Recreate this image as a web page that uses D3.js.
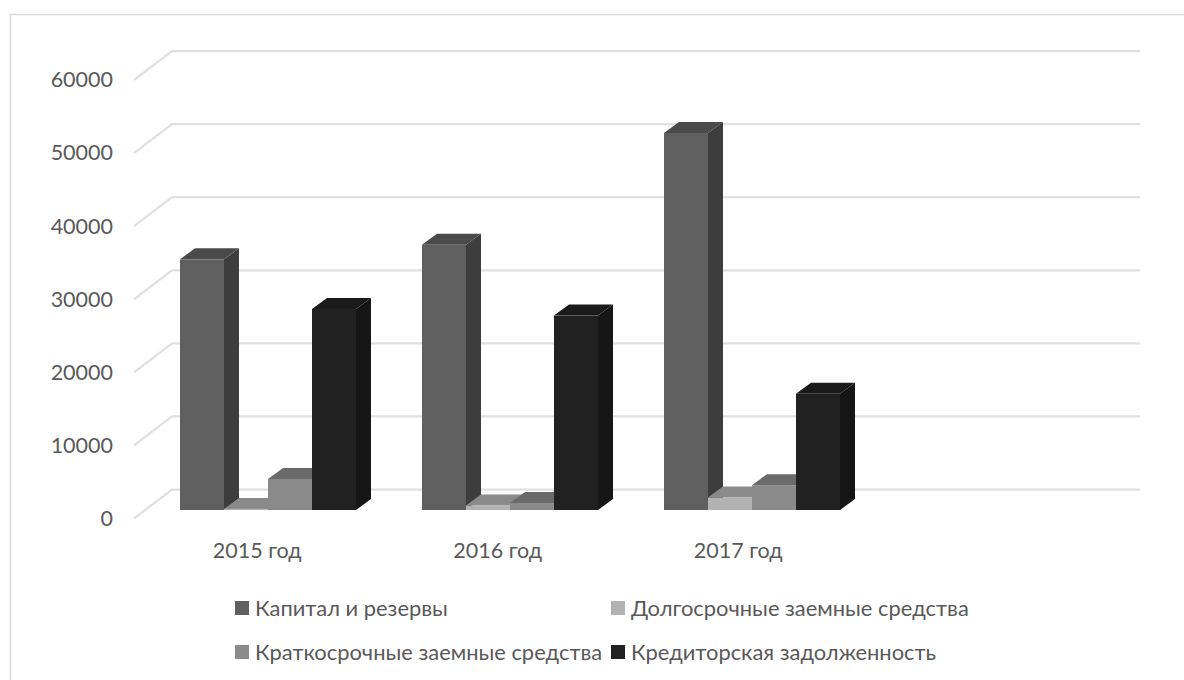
<!DOCTYPE html>
<html>
<head>
<meta charset="utf-8">
<script src="https://cdn.jsdelivr.net/npm/d3@7"></script>
<style>
    html, body { margin: 0; background: #fff; }
    text { font-family: Lato, "Open Sans", sans-serif; fill: #595959; }
</style>
</head>
<body>
<div id="chart"></div>
<script>
// data ("" = the empty fourth slot on the axis)
var categories = ["2015 год", "2016 год", "2017 год", ""];
var seriesNames = ["Капитал и резервы", "Долгосрочные заемные средства", "Краткосрочные заемные средства", "Кредиторская задолженность"];
var capital = [34300, 36300, 51600];
var longTerm = [150, 600, 1700];
var shortTerm = [4250, 950, 3400];
var payables = [27500, 26600, 15900];
var yTicks = [0, 10000, 20000, 30000, 40000, 50000, 60000];

var seriesValues = [capital, longTerm, shortTerm, payables];
var frontColors = ["#5f5f5f", "#b2b2b2", "#8a8a8a", "#212121"];
var topColors = ["#4a4a4a", "#8a8a8a", "#6a6a6a", "#1a1a1a"];
var sideColors = ["#3d3d3d", "#7a7a7a", "#5a5a5a", "#161616"];

var width = 1184, height = 680;
var svg = d3.select("#chart").append("svg")
    .attr("width", width)
    .attr("height", height)
    .style("display", "block");

// chart frame, cut off by the picture on the right and at the bottom
svg.append("path")
    .attr("d", "M10.5,680L10.5,14.5L1184,14.5")
    .attr("fill", "none")
    .attr("stroke", "#d9d9d9")
    .attr("stroke-width", 1.5);

// front edge of the floor, the wall sits at depth (wallDx, wallDy)
var wallDx = 38, wallDy = -29;
// bars stand between these two depths
var barDx = 12, barDy = -8.5, depthDx = 15, depthDy = -11;

var x = d3.scaleBand().domain(categories).range([134, 1102]);
var y = d3.scaleLinear().domain([0, 60000]).range([518.5, 80]);
var xInner = d3.scaleBand()
    .domain(d3.range(seriesNames.length))
    .range([34, 210]);
// labels sit on the front edge of the floor, a bit tighter than the bars
var xLabels = d3.scaleBand().domain(categories).range([137, 1099]);

// gridlines on the wall plus the diagonal on the side wall
var grid = svg.append("g").attr("class", "grid");
grid.selectAll("path").data(yTicks).enter().append("path")
    .attr("d", function (d) {
        return "M" + x.range()[0] + "," + y(d) +
            "L" + (x.range()[0] + wallDx) + "," + (y(d) + wallDy) +
            "L" + (x.range()[1] + wallDx) + "," + (y(d) + wallDy);
    })
    .attr("fill", "none")
    .attr("stroke", "#e0e0e0")
    .attr("stroke-width", 2.25);

// y axis, only the labels are kept
var yAxis = d3.axisLeft(y).tickValues(yTicks).tickSize(0).tickPadding(21).tickFormat(d3.format("d"));
var yG = svg.append("g")
    .attr("transform", "translate(134,0)")
    .call(yAxis);
yG.select(".domain").remove();
yG.selectAll("text").style("font-size", "21.5px");

// x axis labels
var xAxis = d3.axisBottom(xLabels).tickSize(0).tickPadding(0);
var xG = svg.append("g")
    .attr("transform", "translate(0,543)")
    .call(xAxis);
xG.select(".domain").remove();
xG.selectAll("text").style("font-size", "21.5px");

// 3d bars, drawn in series order so neighbours overlap the same way
var bars = [];
seriesValues.forEach(function (values, s) {
    values.forEach(function (v, c) {
        bars.push({ s: s, c: c, v: v });
    });
});

var barG = svg.append("g").attr("transform", "translate(" + barDx + "," + barDy + ")");

var groups = barG.selectAll("g.bar").data(bars).enter().append("g").attr("class", "bar");

function barLeft(d) { return x(categories[d.c]) + xInner(d.s); }
function barRight(d) { return barLeft(d) + xInner.bandwidth(); }
function barTop(d) { return y(d.v); }
var base = y(0);

groups.append("path")
    .attr("fill", function (d) { return sideColors[d.s]; })
    .attr("d", function (d) {
        return "M" + barRight(d) + "," + barTop(d) +
            "l" + depthDx + "," + depthDy +
            "L" + (barRight(d) + depthDx) + "," + (base + depthDy) +
            "L" + barRight(d) + "," + base + "Z";
    });

groups.append("path")
    .attr("fill", function (d) { return topColors[d.s]; })
    .attr("d", function (d) {
        return "M" + barLeft(d) + "," + barTop(d) +
            "l" + depthDx + "," + depthDy +
            "L" + (barRight(d) + depthDx) + "," + (barTop(d) + depthDy) +
            "L" + barRight(d) + "," + barTop(d) + "Z";
    });

groups.append("rect")
    .attr("x", barLeft)
    .attr("y", barTop)
    .attr("width", xInner.bandwidth())
    .attr("height", function (d) { return base - barTop(d); })
    .attr("fill", function (d) { return frontColors[d.s]; });

// legend, two rows by two columns
var legendX = [235, 611];
var legendY = [608, 652];
var legend = svg.append("g");
var items = legend.selectAll("g").data(seriesNames).enter().append("g")
    .attr("transform", function (d, i) {
        return "translate(" + legendX[i % 2] + "," + legendY[Math.floor(i / 2)] + ")";
    });
items.append("rect")
    .attr("y", -7).attr("width", 14).attr("height", 14)
    .attr("fill", function (d, i) { return frontColors[i]; });
items.append("text")
    .attr("x", 20).attr("dy", "0.35em")
    .style("font-size", "21.9px")
    .text(function (d) { return d; });
</script>
</body>
</html>
